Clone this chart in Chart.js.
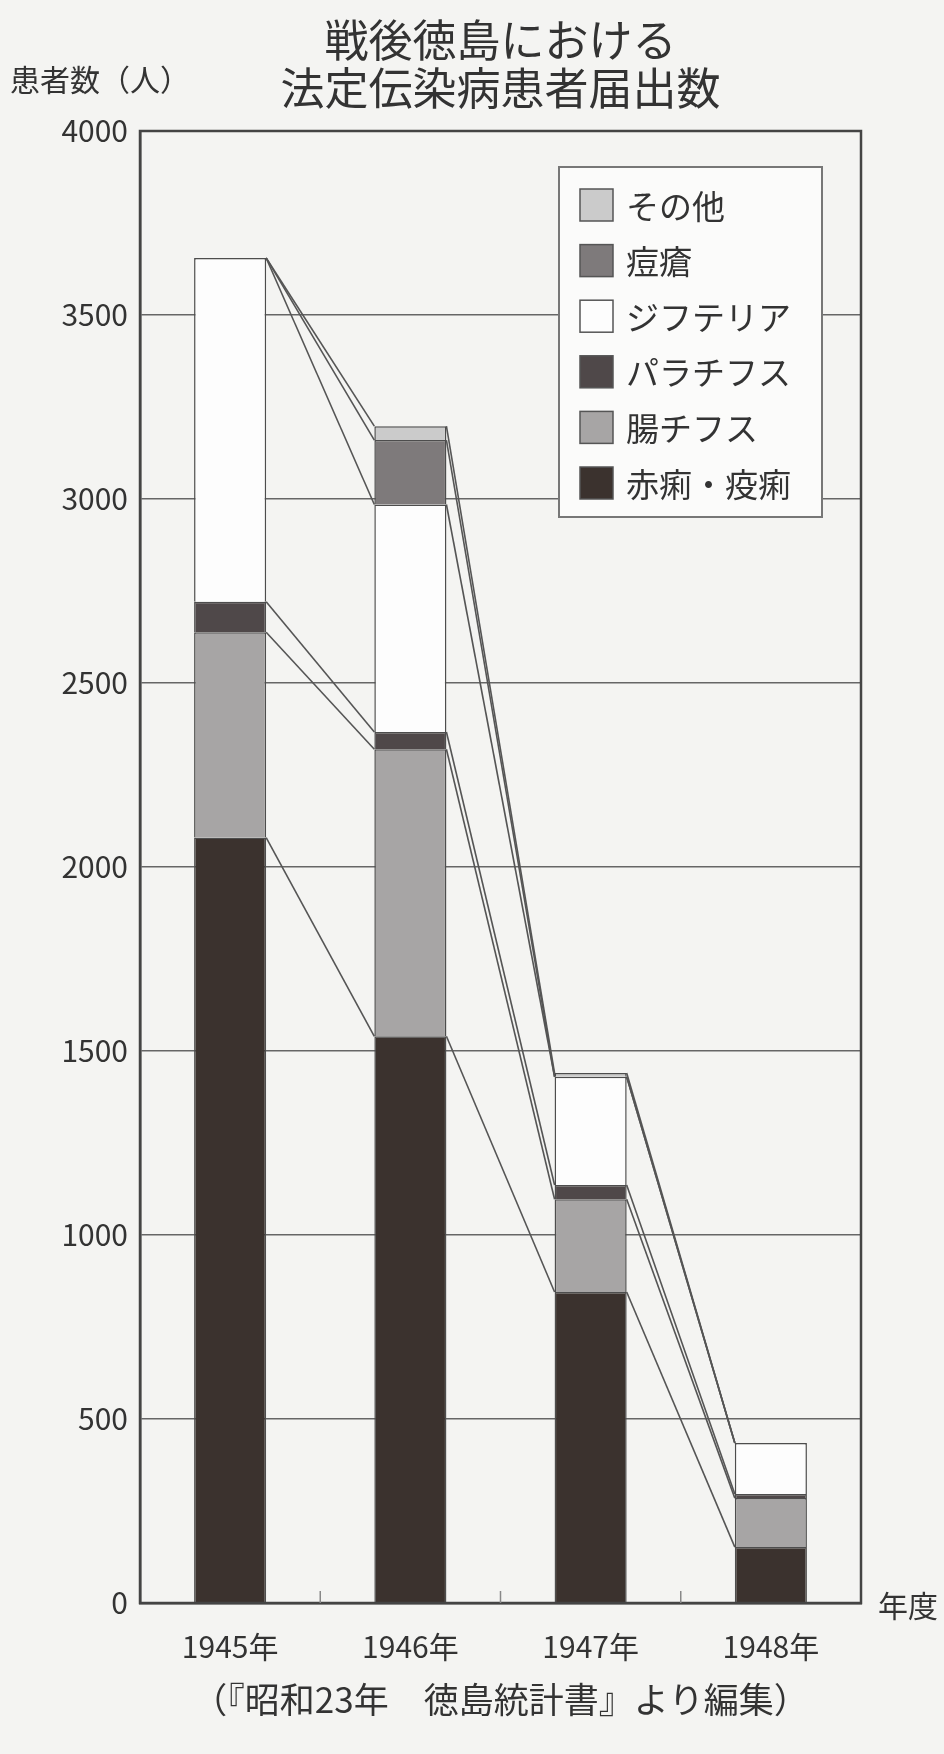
<!DOCTYPE html>
<html lang="ja">
<head>
<meta charset="utf-8">
<title>戦後徳島における法定伝染病患者届出数</title>
<script src="https://cdn.jsdelivr.net/npm/chart.js@4.4.1/dist/chart.umd.min.js"></script>
<style>
  html, body { margin: 0; padding: 0; background: #f4f4f2; }
  #wrap { position: relative; width: 944px; height: 1754px; }
</style>
</head>
<body>
<div id="wrap"><canvas id="chart"></canvas></div>
<script>
// 年度
const years = ["1945年", "1946年", "1947年", "1948年"];

// 患者届出数（人）― 下から積み上げる順
const sekiri = [2080, 1540, 845, 152];    // 赤痢・疫痢
const chouChifusu = [558, 780, 252, 133]; // 腸チフス
const paraChifusu = [83, 47, 39, 11];     // パラチフス
const jifuteria = [934, 618, 294, 139];   // ジフテリア
const tousou = [0, 175, 0, 0];            // 痘瘡
const sonota = [0, 38, 10, 0];            // その他

const yTicks = [0, 500, 1000, 1500, 2000, 2500, 3000, 3500, 4000];

const fontJP = '"Noto Sans CJK JP", "Noto Sans", sans-serif';

// 棒と棒をつなぐ区分線
const seriesLines = {
  id: "seriesLines",
  beforeDatasetsDraw(chart) {
    const ctx = chart.ctx;
    ctx.save();
    ctx.strokeStyle = "#555";
    ctx.lineWidth = 1.6;
    chart.data.datasets.forEach((ds, d) => {
      const bars = chart.getDatasetMeta(d).data;
      for (let i = 0; i < bars.length - 1; i++) {
        const a = bars[i], b = bars[i + 1];
        ctx.beginPath();
        ctx.moveTo(a.x + a.width / 2, a.y);
        ctx.lineTo(b.x - b.width / 2, b.y);
        ctx.stroke();
      }
    });
    ctx.restore();
  }
};

// 枠線と下の目盛り
const frame = {
  id: "frame",
  afterDatasetsDraw(chart) {
    const { ctx, chartArea: a } = chart;
    const x = chart.scales.x;
    ctx.save();
    ctx.strokeStyle = "#444";
    ctx.lineWidth = 2.5;
    ctx.strokeRect(a.left, a.top, a.right - a.left, a.bottom - a.top);
    ctx.strokeStyle = "#888";
    ctx.lineWidth = 1.5;
    for (let i = 0; i < years.length - 1; i++) {
      const px = (x.getPixelForValue(i) + x.getPixelForValue(i + 1)) / 2;
      ctx.beginPath();
      ctx.moveTo(px, a.bottom);
      ctx.lineTo(px, a.bottom - 12);
      ctx.stroke();
    }
    ctx.restore();
  }
};

// 凡例（グラフ内右上）
const boxLegend = {
  id: "boxLegend",
  afterDraw(chart) {
    const { ctx, chartArea: a } = chart;
    const left = a.right - 302, top = a.top + 36, w = 263, h = 350;
    ctx.save();
    ctx.fillStyle = "#fbfbfa";
    ctx.fillRect(left, top, w, h);
    ctx.strokeStyle = "#777";
    ctx.lineWidth = 2;
    ctx.strokeRect(left, top, w, h);
    const sets = chart.data.datasets.slice().reverse();
    ctx.font = "33px " + fontJP;
    ctx.textBaseline = "middle";
    sets.forEach((ds, i) => {
      const cy = top + 38 + i * 55.6;
      ctx.fillStyle = ds.backgroundColor;
      ctx.fillRect(left + 21, cy - 16, 33, 32);
      ctx.strokeStyle = "#555";
      ctx.lineWidth = 1.5;
      ctx.strokeRect(left + 21, cy - 16, 33, 32);
      ctx.fillStyle = "#333";
      ctx.fillText(ds.label, left + 67, cy + 1);
    });
    ctx.restore();
  }
};

// 表題・軸名・出典
const texts = {
  id: "texts",
  afterDraw(chart) {
    const { ctx, chartArea: a } = chart;
    const cx = (a.left + a.right) / 2;
    ctx.save();
    ctx.fillStyle = "#333";
    ctx.textBaseline = "middle";
    ctx.textAlign = "center";
    ctx.font = "44px " + fontJP;
    ctx.fillText("戦後徳島における", cx, 40);
    ctx.fillText("法定伝染病患者届出数", cx, 88);
    ctx.font = "35px " + fontJP;
    ctx.fillText("（『昭和23年　徳島統計書』より編集）", cx, 1700);
    ctx.textAlign = "left";
    ctx.font = "30px " + fontJP;
    ctx.fillText("患者数（人）", 10, 80);
    ctx.fillText("年度", a.right + 17, a.bottom + 3);
    ctx.restore();
  }
};

const ctx = document.getElementById("chart").getContext("2d");
new Chart(ctx, {
  type: "bar",
  data: {
    labels: years,
    datasets: [
      { label: "赤痢・疫痢", data: sekiri, backgroundColor: "#3b322e" },
      { label: "腸チフス", data: chouChifusu, backgroundColor: "#a7a5a5" },
      { label: "パラチフス", data: paraChifusu, backgroundColor: "#4f4849" },
      { label: "ジフテリア", data: jifuteria, backgroundColor: "#fdfdfd" },
      { label: "痘瘡", data: tousou, backgroundColor: "#7e7a7b" },
      { label: "その他", data: sonota, backgroundColor: "#cbcbcb" }
    ].map(ds => Object.assign(ds, {
      borderColor: "#4d4d4d",
      borderWidth: 1.5,
      barPercentage: 0.4,
      categoryPercentage: 1
    }))
  },
  options: {
    responsive: true,
    maintainAspectRatio: false,
    animation: false,
    layout: { padding: { top: 131, right: 83, left: 0, bottom: 0 } },
    plugins: {
      legend: { display: false },
      title: { display: false },
      tooltip: { enabled: false }
    },
    scales: {
      x: {
        stacked: true,
        afterFit: s => { s.height = 151; },
        grid: { display: false },
        border: { display: true, color: "#444", width: 2.5 },
        ticks: { color: "#333", padding: 18, font: { family: fontJP, size: 30 } }
      },
      y: {
        stacked: true,
        min: 0,
        max: 4000,
        afterFit: s => { s.width = 140; },
        afterBuildTicks: s => { s.ticks = yTicks.map(v => ({ value: v })); },
        grid: { color: "#666", lineWidth: 1.5, drawTicks: false },
        border: { display: true, color: "#444", width: 2.5 },
        ticks: {
          color: "#333",
          padding: 12,
          font: { family: fontJP, size: 30 },
          callback: v => String(v)
        }
      }
    }
  },
  plugins: [seriesLines, frame, boxLegend, texts]
});
</script>
</body>
</html>
